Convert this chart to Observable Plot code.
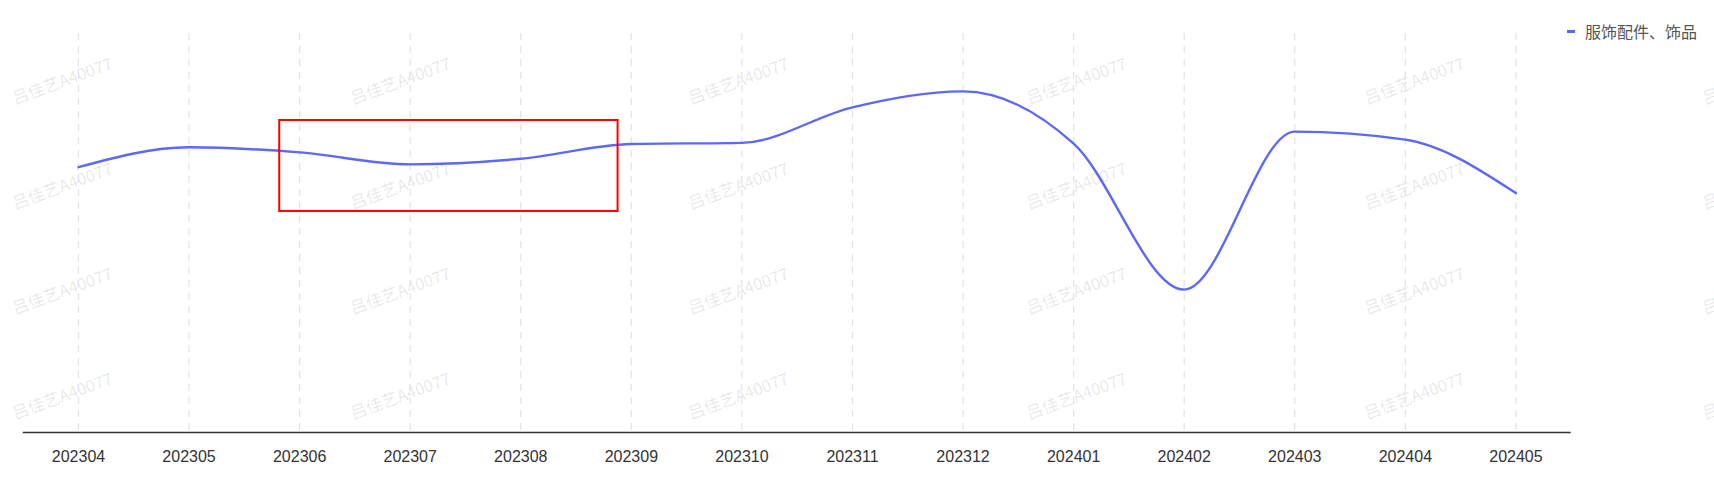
<!DOCTYPE html>
<html>
<head>
<meta charset="utf-8">
<script src="https://cdn.jsdelivr.net/npm/d3@7"></script>
<script src="https://cdn.jsdelivr.net/npm/@observablehq/plot@0.6"></script>
<style>
  html, body { margin: 0; padding: 0; background: #ffffff; }
  #wrap { position: relative; width: 1714px; height: 486px; overflow: hidden; font-family: "Liberation Sans", Arial, "Noto Sans CJK SC", sans-serif; }
  #wm { position: absolute; left: 0; top: 0; width: 1714px; height: 486px; z-index: 0; pointer-events: none; }
  #wm span { position: absolute; font-size: 16.5px; color: rgba(0,0,0,0.1); white-space: nowrap; transform: translate(-50%, -50%) rotate(-20deg); font-family: "Noto Sans CJK SC", "Liberation Sans", sans-serif; }
  #chart { position: absolute; left: 0; top: 0; z-index: 1; }
  #legend { position: absolute; z-index: 2; left: 1567px; top: 19px; display: flex; align-items: center; font-size: 16px; color: #555; font-family: "Noto Sans CJK SC", sans-serif; }
  #legend .sw { width: 8px; height: 3px; background: #5d68f5; margin-right: 10px; }
</style>
</head>
<body>
<div id="wrap">
  <div id="wm"></div>
  <div id="chart"></div>
  <div id="legend"><span class="sw"></span><span id="legendText"></span></div>
</div>
<script>
// ---- data ----
const months = ["202304","202305","202306","202307","202308","202309","202310","202311","202312","202401","202402","202403","202404","202405"];
const values = [66.5, 71.5, 70.2, 67.2, 68.6, 72.3, 72.6, 81.5, 85.5, 72.4, 35.8, 75.4, 73.4, 60.0];
const seriesName = "服饰配件、饰品";
// highlight box (in data units: month index / value)
const highlightX = [1.82, 4.88];
const highlightY = [55.4, 78.2];
const watermarkText = "吕佳艺A40077";

const rows = months.map((m, i) => ({i, month: m, value: values[i]}));
const idx = months.map((_, i) => i);

const lineColor = "#5d68f5";

const chart = Plot.plot({
  width: 1714,
  height: 486,
  marginLeft: 22.7,
  marginRight: 143.3,
  marginTop: 33,
  marginBottom: 54,
  style: {background: "transparent", fontSize: "16px", fontFamily: "'Liberation Sans', Arial, sans-serif", color: "#333"},
  x: {type: "linear", domain: [-0.5, 13.5]},
  y: {domain: [0, 100], axis: null},
  marks: [
    Plot.ruleX(idx, {stroke: "#dfe3ec", strokeWidth: 1.2, strokeDasharray: "7,6"}),
    Plot.ruleY([0], {stroke: "#333", strokeWidth: 1.5}),
    Plot.axisX({ticks: idx, tickFormat: i => months[i], tickSize: 0, tickPadding: 18, fill: "#333"}),
    Plot.line(rows, {x: "i", y: "value", stroke: lineColor, strokeWidth: 2.4, curve: "monotone-x"}),
    Plot.rect([{x1: highlightX[0], x2: highlightX[1], y1: highlightY[0], y2: highlightY[1]}], {x1: "x1", x2: "x2", y1: "y1", y2: "y2", fill: "none", stroke: "#ff0000", strokeWidth: 2})
  ]
});
document.getElementById("chart").appendChild(chart);
document.getElementById("legendText").textContent = seriesName;

// watermark tiling (decoration)
const wm = document.getElementById("wm");
for (let c = 0; c < 6; c++) {
  for (let r = 0; r < 4; r++) {
    const s = document.createElement("span");
    s.textContent = watermarkText;
    s.style.left = (62 + c * 338) + "px";
    s.style.top = (80 + r * 105) + "px";
    wm.appendChild(s);
  }
}
</script>
</body>
</html>
